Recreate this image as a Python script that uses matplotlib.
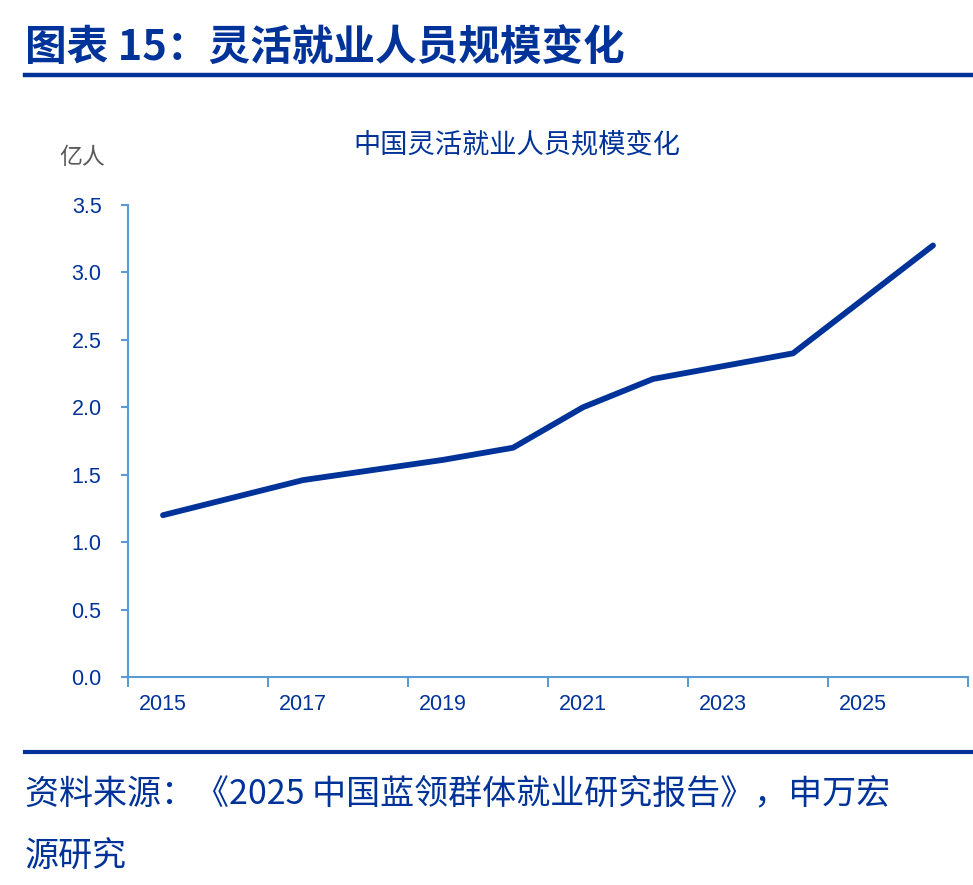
import matplotlib
matplotlib.use("Agg")
import matplotlib.pyplot as plt
import numpy as np

plt.rcParams['font.family'] = ['Liberation Sans', 'Noto Sans CJK SC', 'DejaVu Sans']

years = [2015, 2017, 2019, 2020, 2021, 2022, 2024, 2026]
values = [1.20, 1.46, 1.61, 1.70, 2.00, 2.21, 2.40, 3.20]
xtick_labels = ['2015', '2017', '2019', '2021', '2023', '2025']
yticks = [0.0, 0.5, 1.0, 1.5, 2.0, 2.5, 3.0, 3.5]

fig_title = '图表 15：灵活就业人员规模变化'
chart_title = '中国灵活就业人员规模变化'
unit = '亿人'
source1 = '资料来源：《2025 中国蓝领群体就业研究报告》，申万宏'
source2 = '源研究'

DARK = '#003399'
AXC = '#5B9BD5'
W, H = 973, 885
fig = plt.figure(figsize=(W / 100, H / 100), dpi=100)

cjk = ['Noto Sans CJK SC', 'DejaVu Sans']

# header
fig.text(25 / W, 1 - 49 / H, fig_title, fontsize=30, fontweight='bold', color=DARK,
         family=cjk, va='center', ha='left')
fig.add_artist(plt.Line2D([25 / W, 1], [1 - 75 / H] * 2, color=DARK, lw=3.2,
                          transform=fig.transFigure))
fig.add_artist(plt.Line2D([25 / W, 1], [1 - 752 / H] * 2, color=DARK, lw=3.0,
                          transform=fig.transFigure))
fig.text(25 / W, 1 - 795 / H, source1, fontsize=24.5, color=DARK, family=cjk,
         va='center', ha='left')
fig.text(25 / W, 1 - 857 / H, source2, fontsize=24.5, color=DARK, family=cjk,
         va='center', ha='left')

# chart
left, right, top, bottom = 128, 968, 205, 677
ax = fig.add_axes([left / W, 1 - bottom / H, (right - left) / W, (bottom - top) / H])
ax.plot(years, values, color=DARK, lw=4.2, solid_capstyle='round', solid_joinstyle='round')
ax.set_xlim(2014.5, 2026.5)
ax.set_ylim(0, 3.5)
for s in ['top', 'right']:
    ax.spines[s].set_visible(False)
for s in ['left', 'bottom']:
    ax.spines[s].set_color(AXC)
    ax.spines[s].set_linewidth(1.5)
ax.set_yticks(yticks)
ax.set_yticklabels([f'{v:.1f}' for v in yticks])
ax.tick_params(axis='y', direction='out', length=5, width=1.5, color=AXC,
               labelcolor=DARK, labelsize=15.5, pad=14)
major_x = np.arange(2014.5, 2027, 2)
ax.set_xticks(major_x)
ax.set_xticklabels([''] * len(major_x))
ax.tick_params(axis='x', which='major', direction='out', length=7, width=1.5, color=AXC)
ax.set_xticks([int(t) for t in xtick_labels], minor=True)
ax.set_xticklabels(xtick_labels, minor=True)
ax.tick_params(axis='x', which='minor', length=0, labelcolor=DARK, labelsize=15.5, pad=12)
ax.set_facecolor('none')

fig.text(517 / W, 1 - 145 / H, chart_title, fontsize=19.6, color=DARK, family=cjk,
         va='center', ha='center')
fig.text(82 / W, 1 - 157 / H, unit, fontsize=16.5, color='#595959', family=cjk,
         va='center', ha='center')

fig.savefig('out.png', dpi=100)
